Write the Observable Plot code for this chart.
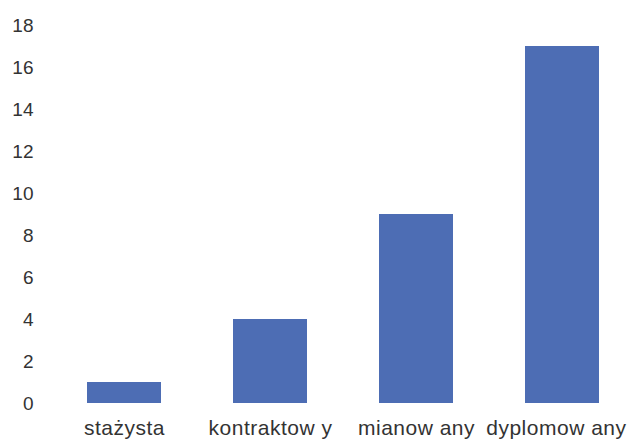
<!DOCTYPE html>
<html>
<head>
<meta charset="utf-8">
<script src="https://cdn.jsdelivr.net/npm/d3@7"></script>
<script src="https://cdn.jsdelivr.net/npm/@observablehq/plot@0.6"></script>
<style>
  html, body { margin: 0; padding: 0; background: #fff; }
  #chart svg { display: block; }
  #chart svg g[aria-label="x-axis tick label"] text { letter-spacing: 0.5px; }
</style>
</head>
<body>
<div id="chart"></div>
<script>
const categories = ["stażysta", "kontraktow y", "mianow any", "dyplomow any"];
const values = [1, 4, 9, 17];
const yTicks = [0, 2, 4, 6, 8, 10, 12, 14, 16, 18];

const data = categories.map((c, i) => ({ category: c, value: values[i] }));

const chart = Plot.plot({
  width: 629,
  height: 446,
  marginTop: 25,
  marginBottom: 43,
  marginLeft: 87,
  marginRight: 29,
  style: { fontFamily: "Liberation Sans, Arial, sans-serif", color: "#333", background: "#fff" },
  x: { domain: categories, paddingInner: 0.49, paddingOuter: 0, label: null },
  y: { domain: [0, 18], label: null },
  marks: [
    Plot.barY(data, { x: "category", y: "value", fill: "#4d6db4" }),
    Plot.axisY({ ticks: yTicks, tickSize: 0, tickPadding: 54, fontSize: 19, label: null }),
    Plot.axisX({ ticks: categories.slice(0, 3), tickSize: 0, tickPadding: 17, fontSize: 21, label: null }),
    Plot.axisX({ ticks: categories.slice(3), tickSize: 0, tickPadding: 17, fontSize: 21, textAnchor: "end", dx: 64, label: null })
  ]
});
document.getElementById("chart").appendChild(chart);
</script>
</body>
</html>
